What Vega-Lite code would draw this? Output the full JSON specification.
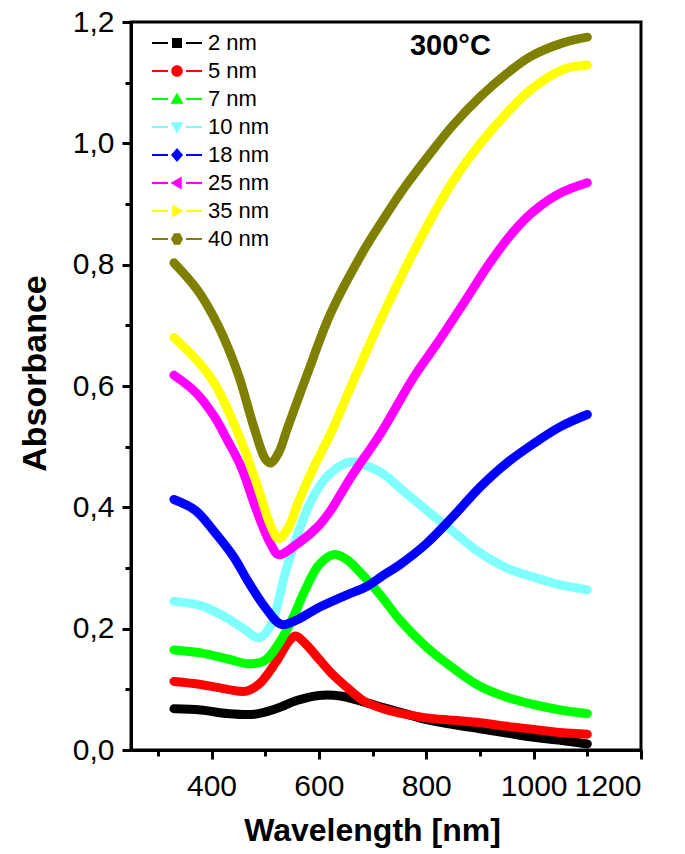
{
  "$schema": "https://vega.github.io/schema/vega-lite/v6.json",
  "width": 510,
  "height": 728,
  "autosize": {"type": "none"},
  "padding": {"left": 131, "top": 22, "right": 44, "bottom": 104},
  "background": "white",
  "config": {
    "view": {"stroke": "black", "strokeWidth": 3},
    "axis": {
      "grid": false,
      "domainColor": "black",
      "domainWidth": 3,
      "tickColor": "black",
      "tickWidth": 3,
      "labelFont": "Liberation Sans",
      "labelFontSize": 30,
      "labelColor": "black",
      "titleFont": "Liberation Sans",
      "titleFontSize": 32,
      "titleFontWeight": "bold",
      "titleColor": "black"
    },
    "legend": {
      "title": null,
      "orient": "none",
      "legendX": 21,
      "legendY": 7,
      "padding": 0,
      "labelFont": "Liberation Sans",
      "labelFontSize": 22,
      "labelColor": "black",
      "labelOffset": 6,
      "rowPadding": 0,
      "clipHeight": 28,
      "symbolSize": 2500,
      "symbolOpacity": 1,
      "symbolStrokeWidth": 0
    }
  },
  "data": {
    "values": [
      {"s": "2 nm", "w": 330, "a": 0.068}, {"s": "2 nm", "w": 380, "a": 0.066}, {"s": "2 nm", "w": 430, "a": 0.060}, {"s": "2 nm", "w": 480, "a": 0.059}, {"s": "2 nm", "w": 520, "a": 0.068}, {"s": "2 nm", "w": 560, "a": 0.082}, {"s": "2 nm", "w": 600, "a": 0.090}, {"s": "2 nm", "w": 640, "a": 0.089}, {"s": "2 nm", "w": 680, "a": 0.080}, {"s": "2 nm", "w": 720, "a": 0.070}, {"s": "2 nm", "w": 760, "a": 0.060}, {"s": "2 nm", "w": 800, "a": 0.050}, {"s": "2 nm", "w": 850, "a": 0.042}, {"s": "2 nm", "w": 900, "a": 0.035}, {"s": "2 nm", "w": 950, "a": 0.028}, {"s": "2 nm", "w": 1000, "a": 0.021}, {"s": "2 nm", "w": 1050, "a": 0.016}, {"s": "2 nm", "w": 1100, "a": 0.010},
      {"s": "5 nm", "w": 330, "a": 0.113}, {"s": "5 nm", "w": 380, "a": 0.108}, {"s": "5 nm", "w": 430, "a": 0.100}, {"s": "5 nm", "w": 465, "a": 0.097}, {"s": "5 nm", "w": 490, "a": 0.110}, {"s": "5 nm", "w": 520, "a": 0.145}, {"s": "5 nm", "w": 545, "a": 0.180}, {"s": "5 nm", "w": 557, "a": 0.188}, {"s": "5 nm", "w": 575, "a": 0.175}, {"s": "5 nm", "w": 600, "a": 0.150}, {"s": "5 nm", "w": 625, "a": 0.125}, {"s": "5 nm", "w": 650, "a": 0.105}, {"s": "5 nm", "w": 685, "a": 0.080}, {"s": "5 nm", "w": 720, "a": 0.068}, {"s": "5 nm", "w": 760, "a": 0.059}, {"s": "5 nm", "w": 800, "a": 0.053}, {"s": "5 nm", "w": 850, "a": 0.049}, {"s": "5 nm", "w": 900, "a": 0.045}, {"s": "5 nm", "w": 950, "a": 0.039}, {"s": "5 nm", "w": 1000, "a": 0.034}, {"s": "5 nm", "w": 1050, "a": 0.029}, {"s": "5 nm", "w": 1100, "a": 0.026},
      {"s": "7 nm", "w": 330, "a": 0.165}, {"s": "7 nm", "w": 380, "a": 0.160}, {"s": "7 nm", "w": 430, "a": 0.150}, {"s": "7 nm", "w": 470, "a": 0.142}, {"s": "7 nm", "w": 500, "a": 0.148}, {"s": "7 nm", "w": 525, "a": 0.175}, {"s": "7 nm", "w": 550, "a": 0.215}, {"s": "7 nm", "w": 575, "a": 0.265}, {"s": "7 nm", "w": 600, "a": 0.305}, {"s": "7 nm", "w": 628, "a": 0.322}, {"s": "7 nm", "w": 650, "a": 0.315}, {"s": "7 nm", "w": 680, "a": 0.290}, {"s": "7 nm", "w": 715, "a": 0.255}, {"s": "7 nm", "w": 750, "a": 0.215}, {"s": "7 nm", "w": 800, "a": 0.170}, {"s": "7 nm", "w": 850, "a": 0.135}, {"s": "7 nm", "w": 900, "a": 0.105}, {"s": "7 nm", "w": 950, "a": 0.087}, {"s": "7 nm", "w": 1000, "a": 0.075}, {"s": "7 nm", "w": 1050, "a": 0.066}, {"s": "7 nm", "w": 1100, "a": 0.060},
      {"s": "10 nm", "w": 330, "a": 0.245}, {"s": "10 nm", "w": 380, "a": 0.238}, {"s": "10 nm", "w": 420, "a": 0.222}, {"s": "10 nm", "w": 460, "a": 0.200}, {"s": "10 nm", "w": 488, "a": 0.185}, {"s": "10 nm", "w": 510, "a": 0.205}, {"s": "10 nm", "w": 540, "a": 0.300}, {"s": "10 nm", "w": 585, "a": 0.410}, {"s": "10 nm", "w": 620, "a": 0.455}, {"s": "10 nm", "w": 660, "a": 0.475}, {"s": "10 nm", "w": 690, "a": 0.468}, {"s": "10 nm", "w": 720, "a": 0.455}, {"s": "10 nm", "w": 760, "a": 0.425}, {"s": "10 nm", "w": 808, "a": 0.390}, {"s": "10 nm", "w": 850, "a": 0.360}, {"s": "10 nm", "w": 900, "a": 0.325}, {"s": "10 nm", "w": 950, "a": 0.300}, {"s": "10 nm", "w": 1000, "a": 0.285}, {"s": "10 nm", "w": 1050, "a": 0.272}, {"s": "10 nm", "w": 1100, "a": 0.264},
      {"s": "18 nm", "w": 330, "a": 0.413}, {"s": "18 nm", "w": 370, "a": 0.395}, {"s": "18 nm", "w": 405, "a": 0.360}, {"s": "18 nm", "w": 440, "a": 0.320}, {"s": "18 nm", "w": 470, "a": 0.275}, {"s": "18 nm", "w": 500, "a": 0.235}, {"s": "18 nm", "w": 530, "a": 0.207}, {"s": "18 nm", "w": 560, "a": 0.215}, {"s": "18 nm", "w": 600, "a": 0.235}, {"s": "18 nm", "w": 650, "a": 0.255}, {"s": "18 nm", "w": 690, "a": 0.270}, {"s": "18 nm", "w": 720, "a": 0.288}, {"s": "18 nm", "w": 750, "a": 0.305}, {"s": "18 nm", "w": 800, "a": 0.340}, {"s": "18 nm", "w": 850, "a": 0.385}, {"s": "18 nm", "w": 900, "a": 0.433}, {"s": "18 nm", "w": 950, "a": 0.473}, {"s": "18 nm", "w": 1000, "a": 0.505}, {"s": "18 nm", "w": 1050, "a": 0.533}, {"s": "18 nm", "w": 1100, "a": 0.553},
      {"s": "25 nm", "w": 330, "a": 0.618}, {"s": "25 nm", "w": 370, "a": 0.590}, {"s": "25 nm", "w": 405, "a": 0.550}, {"s": "25 nm", "w": 430, "a": 0.510}, {"s": "25 nm", "w": 455, "a": 0.467}, {"s": "25 nm", "w": 486, "a": 0.390}, {"s": "25 nm", "w": 510, "a": 0.340}, {"s": "25 nm", "w": 525, "a": 0.322}, {"s": "25 nm", "w": 560, "a": 0.340}, {"s": "25 nm", "w": 600, "a": 0.370}, {"s": "25 nm", "w": 622, "a": 0.395}, {"s": "25 nm", "w": 660, "a": 0.450}, {"s": "25 nm", "w": 715, "a": 0.522}, {"s": "25 nm", "w": 777, "a": 0.615}, {"s": "25 nm", "w": 820, "a": 0.670}, {"s": "25 nm", "w": 870, "a": 0.737}, {"s": "25 nm", "w": 920, "a": 0.805}, {"s": "25 nm", "w": 963, "a": 0.855}, {"s": "25 nm", "w": 1000, "a": 0.888}, {"s": "25 nm", "w": 1050, "a": 0.918}, {"s": "25 nm", "w": 1100, "a": 0.935},
      {"s": "35 nm", "w": 330, "a": 0.680}, {"s": "35 nm", "w": 370, "a": 0.645}, {"s": "35 nm", "w": 405, "a": 0.605}, {"s": "35 nm", "w": 455, "a": 0.510}, {"s": "35 nm", "w": 486, "a": 0.434}, {"s": "35 nm", "w": 510, "a": 0.370}, {"s": "35 nm", "w": 525, "a": 0.348}, {"s": "35 nm", "w": 545, "a": 0.370}, {"s": "35 nm", "w": 560, "a": 0.405}, {"s": "35 nm", "w": 590, "a": 0.465}, {"s": "35 nm", "w": 622, "a": 0.522}, {"s": "35 nm", "w": 670, "a": 0.620}, {"s": "35 nm", "w": 715, "a": 0.709}, {"s": "35 nm", "w": 760, "a": 0.792}, {"s": "35 nm", "w": 808, "a": 0.874}, {"s": "35 nm", "w": 850, "a": 0.938}, {"s": "35 nm", "w": 901, "a": 1.000}, {"s": "35 nm", "w": 950, "a": 1.050}, {"s": "35 nm", "w": 994, "a": 1.088}, {"s": "35 nm", "w": 1056, "a": 1.122}, {"s": "35 nm", "w": 1100, "a": 1.129},
      {"s": "40 nm", "w": 330, "a": 0.803}, {"s": "40 nm", "w": 374, "a": 0.758}, {"s": "40 nm", "w": 412, "a": 0.700}, {"s": "40 nm", "w": 449, "a": 0.621}, {"s": "40 nm", "w": 479, "a": 0.532}, {"s": "40 nm", "w": 500, "a": 0.480}, {"s": "40 nm", "w": 510, "a": 0.473}, {"s": "40 nm", "w": 525, "a": 0.490}, {"s": "40 nm", "w": 542, "a": 0.532}, {"s": "40 nm", "w": 579, "a": 0.621}, {"s": "40 nm", "w": 622, "a": 0.720}, {"s": "40 nm", "w": 684, "a": 0.824}, {"s": "40 nm", "w": 715, "a": 0.868}, {"s": "40 nm", "w": 760, "a": 0.928}, {"s": "40 nm", "w": 808, "a": 0.984}, {"s": "40 nm", "w": 850, "a": 1.030}, {"s": "40 nm", "w": 901, "a": 1.077}, {"s": "40 nm", "w": 950, "a": 1.115}, {"s": "40 nm", "w": 994, "a": 1.143}, {"s": "40 nm", "w": 1056, "a": 1.166}, {"s": "40 nm", "w": 1100, "a": 1.175}
    ]
  },
  "encoding": {
    "x": {
      "field": "w", "type": "quantitative",
      "scale": {"domain": [250, 1200], "nice": false, "zero": false},
      "axis": {
        "title": "Wavelength [nm]",
        "values": [300, 400, 500, 600, 700, 800, 900, 1000, 1100, 1200],
        "format": "d",
        "labelExpr": "datum.value % 200 === 0 ? datum.label : ''",
        "tickSize": {"condition": {"test": "datum.value % 200 === 0", "value": 9}, "value": 6},
        "labelPadding": 12,
        "titlePadding": 14,
        "titleX": 241
      }
    },
    "y": {
      "field": "a", "type": "quantitative",
      "scale": {"domain": [0, 1.2], "nice": false},
      "axis": {
        "title": "Absorbance",
        "titleFontSize": 34,
        "values": [0, 0.1, 0.2, 0.3, 0.4, 0.5, 0.6, 0.7, 0.8, 0.9, 1.0, 1.1, 1.2],
        "labelExpr": "round(datum.value * 10) % 2 === 0 ? replace(format(datum.value, '.1f'), '.', ',') : ''",
        "tickSize": {"condition": {"test": "round(datum.value * 10) % 2 === 0", "value": 9}, "value": 6},
        "labelPadding": 8,
        "titlePadding": 20,
        "titleY": 351
      }
    }
  },
  "layer": [
    {
      "mark": {"type": "line", "strokeWidth": 9, "strokeCap": "round", "strokeJoin": "round", "interpolate": "catmull-rom"},
      "encoding": {
        "color": {
          "field": "s", "type": "nominal",
          "scale": {
            "domain": ["2 nm", "5 nm", "7 nm", "10 nm", "18 nm", "25 nm", "35 nm", "40 nm"],
            "range": ["#000000", "#ff0000", "#00ff00", "#80ffff", "#0000ff", "#ff00ff", "#ffff00", "#808000"]
          },
          "legend": {"encode": {"symbols": {"update": {"opacity": {"value": 1}, "fillOpacity": {"value": 1}, "size": {"value": 2500}, "strokeWidth": {"value": 0}}}}}
        }
      }
    },
    {
      "mark": {"type": "point", "filled": true, "opacity": 0, "size": 30},
      "encoding": {
        "color": {
          "field": "s", "type": "nominal",
          "legend": {"encode": {"symbols": {"update": {"opacity": {"value": 1}, "fillOpacity": {"value": 1}, "size": {"value": 2500}, "strokeWidth": {"value": 0}}}}}
        },
        "shape": {
          "field": "s", "type": "nominal",
          "scale": {
            "domain": ["2 nm", "5 nm", "7 nm", "10 nm", "18 nm", "25 nm", "35 nm", "40 nm"],
            "range": [
              "M-1,-0.04H-0.36V0.04H-1Z M0.36,-0.04H1V0.04H0.36Z M-0.2,-0.2H0.2V0.2H-0.2Z",
              "M-1,-0.04H-0.36V0.04H-1Z M0.36,-0.04H1V0.04H0.36Z M-0.23,0A0.23,0.23 0 1,0 0.23,0A0.23,0.23 0 1,0 -0.23,0Z",
              "M-1,-0.04H-0.36V0.04H-1Z M0.36,-0.04H1V0.04H0.36Z M0,-0.26L0.26,0.19L-0.26,0.19Z",
              "M-1,-0.04H-0.36V0.04H-1Z M0.36,-0.04H1V0.04H0.36Z M0,0.26L0.26,-0.19L-0.26,-0.19Z",
              "M-1,-0.04H-0.36V0.04H-1Z M0.36,-0.04H1V0.04H0.36Z M0,-0.28L0.24,0L0,0.28L-0.24,0Z",
              "M-1,-0.04H-0.36V0.04H-1Z M0.36,-0.04H1V0.04H0.36Z M-0.26,0L0.19,-0.26L0.19,0.26Z",
              "M-1,-0.04H-0.36V0.04H-1Z M0.36,-0.04H1V0.04H0.36Z M0.26,0L-0.19,-0.26L-0.19,0.26Z",
              "M-1,-0.04H-0.36V0.04H-1Z M0.36,-0.04H1V0.04H0.36Z M-0.12,-0.23H0.12L0.24,0L0.12,0.23H-0.12L-0.24,0Z"
            ]
          },
          "legend": {"encode": {"symbols": {"update": {"opacity": {"value": 1}, "fillOpacity": {"value": 1}, "size": {"value": 2500}, "strokeWidth": {"value": 0}}}}}
        }
      }
    },
    {
      "data": {"values": [{"label": "300°C", "lx": 845, "ly": 1.145}]},
      "mark": {"type": "text", "font": "Liberation Sans", "fontWeight": "bold", "fontSize": 29, "align": "center", "baseline": "alphabetic", "color": "black"},
      "encoding": {"text": {"field": "label", "type": "nominal"}, "x": {"field": "lx", "type": "quantitative"}, "y": {"field": "ly", "type": "quantitative"}}
    }
  ]
}
